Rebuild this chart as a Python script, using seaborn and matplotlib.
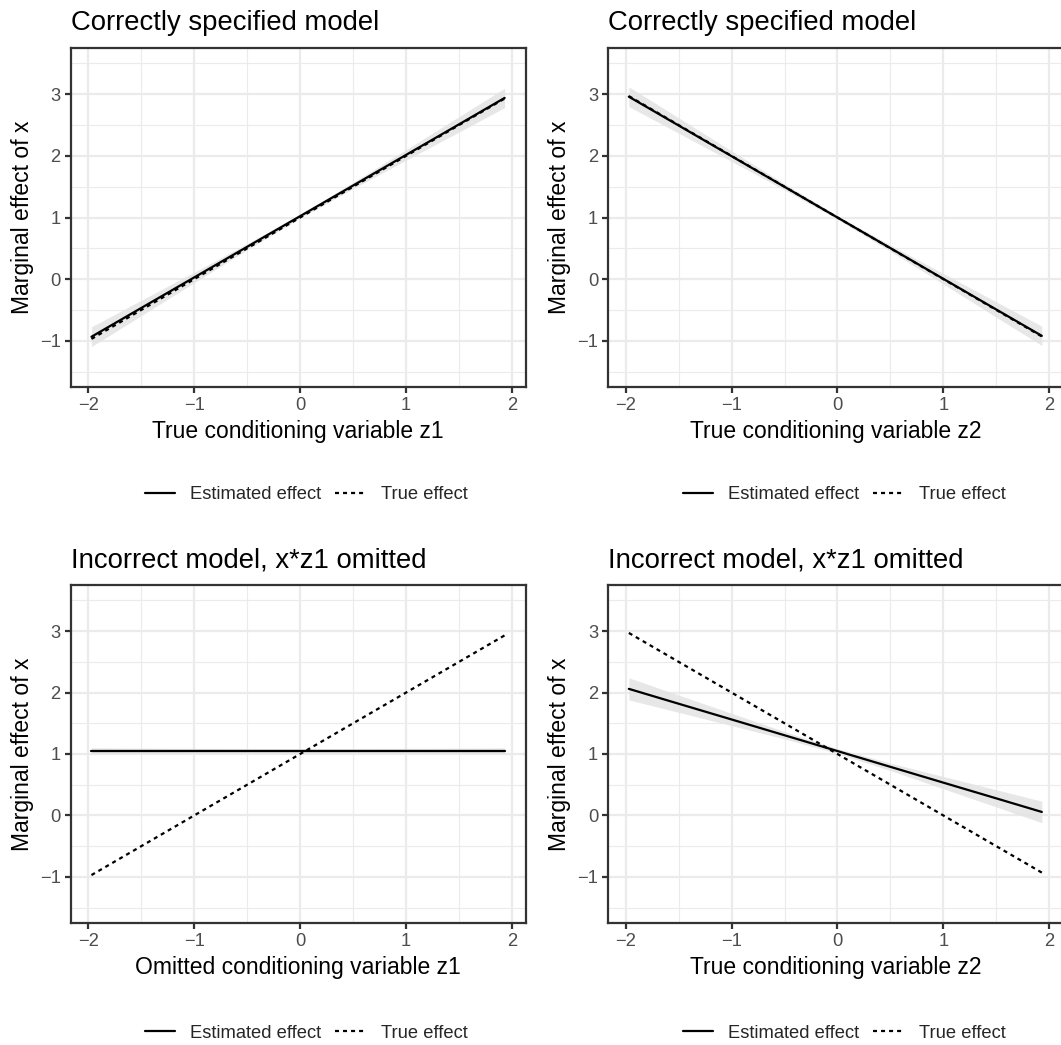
import numpy as np
import pandas as pd
import matplotlib
matplotlib.use("Agg")
import matplotlib.pyplot as plt
from matplotlib.lines import Line2D
from matplotlib.ticker import MultipleLocator
import seaborn as sns

# ---- data -------------------------------------------------------------
z_grid = [-1.97, -1.5, -1.0, -0.5, 0.0, 0.5, 1.0, 1.5, 1.93]

# Correctly specified model, conditioning on z1
est_z1 = [-0.935, -0.468, 0.028, 0.525, 1.022, 1.519, 2.016, 2.512, 2.940]
lo_z1 = [-1.095, -0.593, -0.057, 0.475, 0.992, 1.469, 1.931, 2.387, 2.783]
hi_z1 = [-0.775, -0.343, 0.113, 0.575, 1.052, 1.569, 2.101, 2.637, 3.097]
true_z1 = [-0.97, -0.50, 0.00, 0.50, 1.00, 1.50, 2.00, 2.50, 2.93]

# Correctly specified model, conditioning on z2
est_z2 = [2.960, 2.493, 1.995, 1.498, 1.000, 0.503, 0.005, -0.493, -0.920]
lo_z2 = [2.800, 2.368, 1.910, 1.448, 0.970, 0.453, -0.080, -0.618, -1.077]
hi_z2 = [3.120, 2.618, 2.080, 1.548, 1.030, 0.553, 0.090, -0.368, -0.763]
true_z2 = [2.97, 2.50, 2.00, 1.50, 1.00, 0.50, 0.00, -0.50, -0.93]

# Incorrect model (x*z1 omitted), against omitted z1
est_om = [1.055, 1.055, 1.055, 1.055, 1.055, 1.055, 1.055, 1.055, 1.055]
lo_om = [1.010, 1.015, 1.018, 1.020, 1.021, 1.020, 1.018, 1.015, 1.011]
hi_om = [1.100, 1.095, 1.092, 1.090, 1.089, 1.090, 1.092, 1.095, 1.099]
true_om = [-0.97, -0.50, 0.00, 0.50, 1.00, 1.50, 2.00, 2.50, 2.93]

# Incorrect model (x*z1 omitted), against z2
est_mis = [2.060, 1.818, 1.562, 1.305, 1.048, 0.791, 0.534, 0.278, 0.057]
lo_mis = [1.880, 1.678, 1.462, 1.245, 1.008, 0.731, 0.434, 0.138, -0.118]
hi_mis = [2.240, 1.958, 1.662, 1.365, 1.088, 0.851, 0.634, 0.418, 0.232]
true_mis = [2.97, 2.50, 2.00, 1.50, 1.00, 0.50, 0.00, -0.50, -0.93]

titles = ["Correctly specified model", "Correctly specified model",
          "Incorrect model, x*z1 omitted", "Incorrect model, x*z1 omitted"]
xlabels = ["True conditioning variable z1", "True conditioning variable z2",
           "Omitted conditioning variable z1", "True conditioning variable z2"]
ylabel = "Marginal effect of x"
series_labels = ["Estimated effect", "True effect"]

panels = [
    (est_z1, lo_z1, hi_z1, true_z1),
    (est_z2, lo_z2, hi_z2, true_z2),
    (est_om, lo_om, hi_om, true_om),
    (est_mis, lo_mis, hi_mis, true_mis),
]

# ---- style ------------------------------------------------------------
sns.set_theme(style="white")
plt.rcParams["font.family"] = ["Liberation Sans", "DejaVu Sans"]

DPI = 150
W, H = 1061, 1045
fig = plt.figure(figsize=(W / DPI, H / DPI), dpi=DPI)
fig.patch.set_facecolor("white")

LW = 1.07          # ggplot linewidth 0.5 in points
DASH = (1.8, 1.8)  # short dashes for the true effect
GRID = "#EBEBEB"
DARK = "#333333"
TICKTXT = "#4D4D4D"

# panel rectangles in pixels: left, top, right, bottom
rects = [
    (71.0, 48.0, 525.5, 387.0),
    (608.4, 48.0, 1062.7, 387.0),
    (71.0, 585.0, 525.5, 923.0),
    (608.4, 585.0, 1062.7, 923.0),
]
legend_pos = [(306, 495), (844, 495), (306, 1033), (844, 1033)]

for i, (est, lo, hi, true) in enumerate(panels):
    l, t, r, b = rects[i]
    ax = fig.add_axes([l / W, 1 - b / H, (r - l) / W, (b - t) / H])
    ax.set_facecolor("white")

    df = pd.DataFrame({
        "z": z_grid * 2,
        "value": est + true,
        "series": [series_labels[0]] * len(z_grid) + [series_labels[1]] * len(z_grid),
    })

    ax.fill_between(z_grid, lo, hi, color="#E3E3E3", alpha=0.85, lw=0, zorder=2)
    sns.lineplot(data=df, x="z", y="value", style="series",
                 dashes={series_labels[0]: "", series_labels[1]: DASH},
                 color="black", lw=LW, legend=False, ax=ax, zorder=3,
                 estimator=None, sort=False)

    ax.set_xlim(-2.163, 2.127)
    ax.set_ylim(-1.75, 3.75)
    ax.xaxis.set_major_locator(MultipleLocator(1))
    ax.xaxis.set_minor_locator(MultipleLocator(0.5))
    ax.yaxis.set_major_locator(MultipleLocator(1))
    ax.yaxis.set_minor_locator(MultipleLocator(0.5))
    ax.grid(True, which="major", color=GRID, lw=LW, zorder=0)
    ax.grid(True, which="minor", color=GRID, lw=LW / 2, zorder=0)
    ax.set_axisbelow(True)

    for sp in ax.spines.values():
        sp.set_visible(True)
        sp.set_color(DARK)
        sp.set_linewidth(LW)
        sp.set_zorder(5)

    ax.tick_params(which="major", length=2.75, width=LW, color=DARK,
                   labelsize=8.8, labelcolor=TICKTXT, pad=2.2,
                   bottom=True, left=True)
    ax.tick_params(which="minor", length=0)

    ax.set_title(titles[i], loc="left", fontsize=13.2, color="black", pad=8.5)
    ax.set_xlabel(xlabels[i], fontsize=11, color="black", labelpad=2.75)
    ax.set_ylabel(ylabel, fontsize=11, color="black", labelpad=2.75)

    handles = [Line2D([], [], color="black", lw=LW),
               Line2D([], [], color="black", lw=LW, linestyle=(0, DASH))]
    lx, ly = legend_pos[i]
    ax.legend(handles, series_labels, loc="center",
              bbox_to_anchor=(lx / W, 1 - ly / H), bbox_transform=fig.transFigure,
              ncol=2, frameon=False, fontsize=8.8, handlelength=1.64,
              handletextpad=0.84, columnspacing=0.77, borderaxespad=0)

fig.savefig("out.png", dpi=DPI, facecolor="white")
